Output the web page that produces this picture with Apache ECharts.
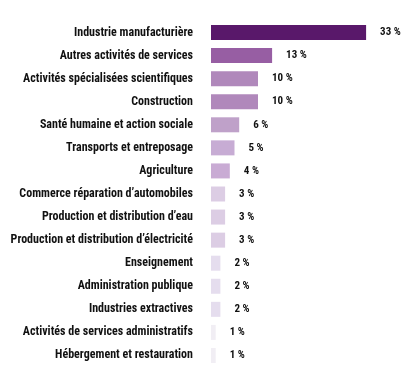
<!DOCTYPE html>
<html><head><meta charset="utf-8">
<script src="https://cdn.jsdelivr.net/npm/echarts@6/dist/echarts.min.js"></script>
<style>html,body{margin:0;padding:0;background:#fff}#c{width:416px;height:380px}</style>
</head><body><div id="c"></div>
<script>
const categories = [
  "Industrie manufacturière",
  "Autres activités de services",
  "Activités spécialisées scientifiques",
  "Construction",
  "Santé humaine et action sociale",
  "Transports et entreposage",
  "Agriculture",
  "Commerce réparation d’automobiles",
  "Production et distribution d’eau",
  "Production et distribution d’électricité",
  "Enseignement",
  "Administration publique",
  "Industries extractives",
  "Activités de services administratifs",
  "Hébergement et restauration"
];
const values = [33, 13, 10, 10, 6, 5, 4, 3, 3, 3, 2, 2, 2, 1, 1];
const barColors = ["#59186a","#975ea3","#b088bb","#b088bb","#bfa1c9","#c7acd4","#c9abd4","#dccde4","#dccde4","#dccde4","#e5ddee","#e5ddee","#e5ddee","#f1eef4","#f1eef4"];

const FONT = "'Roboto Condensed', 'DejaVu Sans Condensed', sans-serif";
const chart = echarts.init(document.getElementById('c'), null, {renderer:'canvas'});
chart.setOption({
  animation:false,
  grid:{left:211, right:17, top:21, bottom:13, containLabel:false, outerBoundsMode:'none'},
  xAxis:{type:'value', min:0, max:40, show:false},
  yAxis:{type:'category', inverse:true, data:categories,
    axisLine:{show:false}, axisTick:{show:false}, splitLine:{show:false},
    axisLabel:{margin:18, color:'#111', fontFamily:FONT, fontWeight:'bold', fontSize:12}},
  series:[{type:'bar', barWidth:15,
    data: values.map((v,i)=>({value:v, itemStyle:{color:barColors[i]}})),
    label:{show:true, position:'right', distance:14, color:'#111', fontFamily:FONT, fontWeight:'bold', fontSize:11,
      formatter:p=>p.value+' %'}}]
});
</script></body></html>
